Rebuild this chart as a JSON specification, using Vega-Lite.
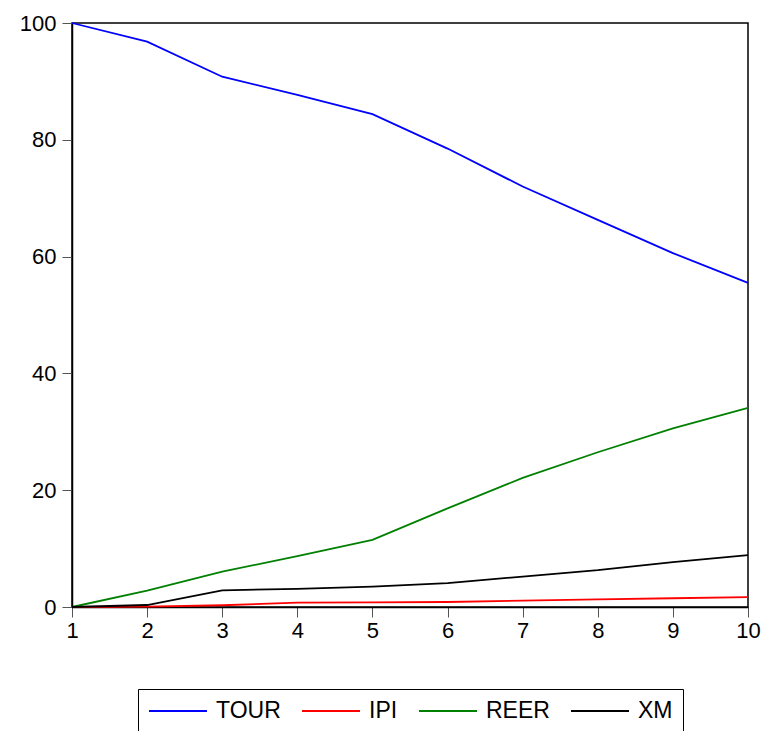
{
  "$schema": "https://vega.github.io/schema/vega-lite/v6.json",
  "autosize": {"type": "none"},
  "padding": {"left": 72, "top": 23, "right": 25, "bottom": 124},
  "width": 676,
  "height": 584,
  "background": "white",
  "config": {
    "font": "Liberation Sans",
    "view": {"stroke": "black", "strokeWidth": 1.5},
    "axis": {
      "grid": false,
      "domainColor": "black",
      "domainWidth": 1.5,
      "tickColor": "#555",
      "tickSize": 10,
      "labelFont": "Liberation Sans",
      "labelFontSize": 22,
      "labelColor": "black",
      "title": null
    }
  },
  "data": {
    "values": [
      {"period": 1, "series": "TOUR", "value": 100},
      {"period": 2, "series": "TOUR", "value": 96.8},
      {"period": 3, "series": "TOUR", "value": 90.8},
      {"period": 4, "series": "TOUR", "value": 87.7},
      {"period": 5, "series": "TOUR", "value": 84.4},
      {"period": 6, "series": "TOUR", "value": 78.5},
      {"period": 7, "series": "TOUR", "value": 72.0},
      {"period": 8, "series": "TOUR", "value": 66.3},
      {"period": 9, "series": "TOUR", "value": 60.6},
      {"period": 10, "series": "TOUR", "value": 55.5},
      {"period": 1, "series": "IPI", "value": 0},
      {"period": 2, "series": "IPI", "value": 0.05},
      {"period": 3, "series": "IPI", "value": 0.3},
      {"period": 4, "series": "IPI", "value": 0.74},
      {"period": 5, "series": "IPI", "value": 0.8},
      {"period": 6, "series": "IPI", "value": 0.86},
      {"period": 7, "series": "IPI", "value": 1.1},
      {"period": 8, "series": "IPI", "value": 1.3},
      {"period": 9, "series": "IPI", "value": 1.5},
      {"period": 10, "series": "IPI", "value": 1.7},
      {"period": 1, "series": "REER", "value": 0},
      {"period": 2, "series": "REER", "value": 2.8},
      {"period": 3, "series": "REER", "value": 6.06},
      {"period": 4, "series": "REER", "value": 8.7},
      {"period": 5, "series": "REER", "value": 11.5},
      {"period": 6, "series": "REER", "value": 16.9},
      {"period": 7, "series": "REER", "value": 22.1},
      {"period": 8, "series": "REER", "value": 26.5},
      {"period": 9, "series": "REER", "value": 30.6},
      {"period": 10, "series": "REER", "value": 34.1},
      {"period": 1, "series": "XM", "value": 0},
      {"period": 2, "series": "XM", "value": 0.34},
      {"period": 3, "series": "XM", "value": 2.86},
      {"period": 4, "series": "XM", "value": 3.1},
      {"period": 5, "series": "XM", "value": 3.5},
      {"period": 6, "series": "XM", "value": 4.1},
      {"period": 7, "series": "XM", "value": 5.2},
      {"period": 8, "series": "XM", "value": 6.3},
      {"period": 9, "series": "XM", "value": 7.7},
      {"period": 10, "series": "XM", "value": 8.9}
    ]
  },
  "mark": {"type": "line", "strokeWidth": 1.8},
  "encoding": {
    "x": {
      "field": "period",
      "type": "quantitative",
      "scale": {"domain": [1, 10], "nice": false, "zero": false},
      "axis": {"values": [1,2,3,4,5,6,7,8,9,10], "format": "d", "labelPadding": 3, "labelFlush": false}
    },
    "y": {
      "field": "value",
      "type": "quantitative",
      "scale": {"domain": [0, 100], "nice": false},
      "axis": {"values": [0,20,40,60,80,100], "labelPadding": 6}
    },
    "color": {
      "field": "series",
      "type": "nominal",
      "sort": ["TOUR", "IPI", "REER", "XM"],
      "scale": {"domain": ["TOUR", "IPI", "REER", "XM"], "range": ["#0000FF", "#FF0000", "#008000", "#000000"]},
      "legend": {
        "title": null,
        "orient": "none",
        "direction": "horizontal",
        "legendX": 66,
        "legendY": 666,
        "strokeColor": "black",
        "fillColor": "white",
        "padding": 10,
        "symbolType": "stroke",
        "symbolSize": 3364,
        "symbolStrokeWidth": 1.8,
        "clipHeight": 24,
        "labelFont": "Liberation Sans",
        "labelFontSize": 23,
        "labelColor": "black",
        "labelOffset": 8,
        "columnPadding": 20,
        "columns": 4
      }
    }
  }
}
